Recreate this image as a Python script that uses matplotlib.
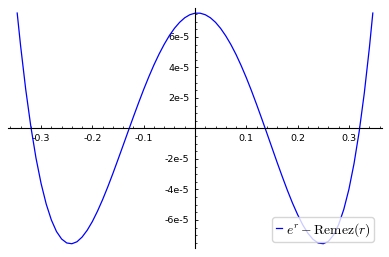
import numpy as np
from matplotlib import pyplot as plt
from matplotlib.ticker import FixedLocator, FixedFormatter, MultipleLocator

plt.rcParams['mathtext.fontset'] = 'cm'

# r values and error e^r - Remez(r), in units of 1e-5
r = [-0.3466, -0.34, -0.33, -0.32, -0.31, -0.30, -0.29, -0.28, -0.27, -0.26,
     -0.25, -0.24, -0.23, -0.22, -0.21, -0.20, -0.19, -0.18, -0.17, -0.16,
     -0.15, -0.14, -0.13, -0.12, -0.11, -0.10, -0.09, -0.08, -0.07, -0.06,
     -0.05, -0.04, -0.03, -0.02, -0.01, 0.00, 0.01, 0.02, 0.03, 0.04,
     0.05, 0.06, 0.07, 0.08, 0.09, 0.10, 0.11, 0.12, 0.13, 0.14,
     0.15, 0.16, 0.17, 0.18, 0.19, 0.20, 0.21, 0.22, 0.23, 0.24,
     0.25, 0.26, 0.27, 0.28, 0.29, 0.30, 0.31, 0.32, 0.33, 0.34, 0.3466]
err = [7.57, 5.44, 2.57, 0.13, -1.93, -3.61, -4.96, -6.00, -6.76, -7.25,
       -7.51, -7.56, -7.43, -7.12, -6.67, -6.10, -5.42, -4.66, -3.83, -2.95,
       -2.03, -1.10, -0.16, 0.77, 1.68, 2.56, 3.39, 4.17, 4.88, 5.52,
       6.09, 6.57, 6.96, 7.26, 7.46, 7.56, 7.56, 7.46, 7.26, 6.96,
       6.56, 6.07, 5.50, 4.85, 4.12, 3.33, 2.48, 1.58, 0.65, -0.30,
       -1.26, -2.22, -3.15, -4.05, -4.89, -5.65, -6.32, -6.87, -7.27, -7.51,
       -7.56, -7.40, -6.99, -6.30, -5.31, -3.99, -2.30, -0.21, 2.32, 5.32, 7.57]

xticks = [-0.3, -0.2, -0.1, 0.1, 0.2, 0.3]
xlabels = ["-0.3", "-0.2", "-0.1", "0.1", "0.2", "0.3"]
yticks = [-6e-5, -4e-5, -2e-5, 2e-5, 4e-5, 6e-5]
ylabels = ["-6e-5", "-4e-5", "-2e-5", "2e-5", "4e-5", "6e-5"]

fig = plt.figure(figsize=(3.89, 2.57), dpi=100)
ax = fig.add_axes([8/389, 9/257, 374/389, 240/257])

ax.plot(r, np.array(err) * 1e-5, color="#0000ff", lw=0.9,
        label=r"$e^r - \mathrm{Remez}(r)$")

ax.set_xlim(-0.3645, 0.3645)
ax.set_ylim(-7.84e-5, 7.90e-5)

for side in ["top", "right"]:
    ax.spines[side].set_visible(False)
ax.spines["left"].set_position(("data", 0))
ax.spines["bottom"].set_position(("data", 0))
for side in ["left", "bottom"]:
    ax.spines[side].set_linewidth(0.8)

ax.xaxis.set_major_locator(FixedLocator(xticks))
ax.xaxis.set_major_formatter(FixedFormatter(xlabels))
ax.yaxis.set_major_locator(FixedLocator(yticks))
ax.yaxis.set_major_formatter(FixedFormatter(ylabels))
ax.xaxis.set_minor_locator(MultipleLocator(0.02))
ax.yaxis.set_minor_locator(MultipleLocator(0.5e-5))

ax.tick_params(which="both", direction="in", labelsize=6.8, color="#222222")
ax.tick_params(which="major", length=2.5, width=0.7, pad=4)
ax.tick_params(which="minor", length=1.5, width=0.6)

ax.legend(loc="lower right", bbox_to_anchor=(374/389, 15/257),
          bbox_transform=fig.transFigure, borderaxespad=0, fontsize=9.8,
          handlelength=0.45, handletextpad=0.3, borderpad=0.25)

fig.savefig("out.png", dpi=100)
